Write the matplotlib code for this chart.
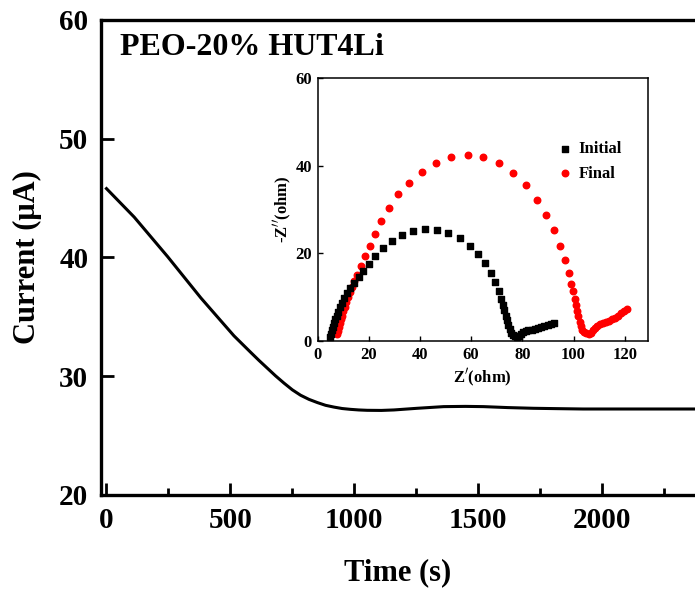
import matplotlib
matplotlib.use("Agg")
import matplotlib.pyplot as plt
from matplotlib.ticker import MultipleLocator

plt.rcParams['font.family'] = ['Liberation Serif', 'DejaVu Serif']
plt.rcParams['font.weight'] = 'bold'

# main curve: current vs time
t_s = [0, 112, 247, 381, 450, 515, 583, 616, 650, 683, 717, 751, 784, 818, 852, 885,
       919, 952, 986, 1019, 1053, 1110, 1161, 1255, 1362, 1450, 1523, 1620, 1724,
       1820, 1925, 2100, 2250, 2400]
current_uA = [45.8, 43.4, 40.07, 36.6, 34.95, 33.4, 32.0, 31.33, 30.67, 30.03, 29.42, 28.85,
              28.4, 28.05, 27.78, 27.55, 27.4, 27.28, 27.21, 27.16, 27.13, 27.12, 27.16,
              27.3, 27.44, 27.46, 27.44, 27.36, 27.3, 27.27, 27.24, 27.24, 27.24, 27.24]

# inset: impedance spectra
zre_initial = [5.0, 5.2, 5.5, 5.9, 6.4, 6.9, 7.5, 8.1, 8.8, 9.6, 10.5, 11.5, 12.7, 14.2,
               16.0, 17.7, 19.9, 22.5, 25.4, 28.9, 32.8, 37.3, 41.8, 46.6, 51.0, 55.6,
               59.5, 62.7, 65.5, 67.6, 69.5, 70.7, 71.8, 72.5, 73.0, 73.5, 74.0, 74.5,
               75.0, 75.6, 76.3, 77.0, 77.8, 78.6, 79.4, 80.3, 81.3, 82.4, 83.6, 84.8,
               86.0, 87.3, 88.6, 89.9, 91.2, 92.4]
zim_initial = [0.8, 1.6, 2.4, 3.2, 4.0, 4.9, 5.8, 6.7, 7.7, 8.7, 9.8, 10.9, 12.1, 13.3,
               14.6, 16.0, 17.6, 19.3, 21.1, 22.7, 24.1, 25.0, 25.5, 25.4, 24.7, 23.4,
               21.7, 19.8, 17.7, 15.6, 13.4, 11.3, 9.6, 8.3, 7.0, 5.8, 4.7, 3.6,
               2.7, 1.9, 1.4, 1.1, 1.0, 1.2, 1.6, 2.0, 2.3, 2.5, 2.6, 2.8,
               3.0, 3.2, 3.5, 3.7, 3.9, 4.1]
zre_final = [7.6, 7.9, 8.2, 8.6, 9.0, 9.5, 10.0, 10.6, 11.2, 11.9, 12.6, 13.4, 14.3, 15.3,
             16.9, 18.6, 20.4, 22.3, 24.8, 27.9, 31.6, 35.8, 40.8, 46.2, 52.3, 58.6,
             64.8, 70.9, 76.5, 81.4, 85.7, 89.2, 92.2, 94.7, 96.5, 98.1, 99.0, 99.7,
             100.4, 100.9, 101.4, 101.9, 102.4, 102.9, 103.5, 104.2, 105.0, 105.9, 106.8,
             107.6, 108.4, 109.3, 110.3, 111.4, 112.6, 113.8, 115.0, 116.2, 117.4, 118.6,
             119.8, 121.0]
zim_final = [1.5, 2.3, 3.1, 4.0, 4.9, 5.8, 6.8, 7.8, 8.9, 10.0, 11.2, 12.4, 13.6, 15.0,
             17.0, 19.3, 21.7, 24.4, 27.3, 30.4, 33.4, 36.1, 38.5, 40.5, 42.0, 42.4,
             42.0, 40.6, 38.4, 35.5, 32.2, 28.8, 25.4, 21.7, 18.4, 15.4, 13.1, 11.3,
             9.6, 8.2, 6.9, 5.6, 4.4, 3.4, 2.6, 2.1, 1.8, 1.7, 1.9,
             2.4, 3.0, 3.5, 3.9, 4.2, 4.4, 4.6, 4.9, 5.3, 5.8, 6.3,
             6.8, 7.3]

fig = plt.figure(figsize=(6.95, 5.94), dpi=100)
ax = fig.add_axes([0.145, 0.1667, 0.855, 0.7997])
ax.plot(t_s, current_uA, color='black', lw=2.2, solid_joinstyle='round')
ax.set_xlim(-23, 2377)
ax.set_ylim(20, 60)
ax.xaxis.set_major_locator(MultipleLocator(500))
ax.xaxis.set_minor_locator(MultipleLocator(250))
ax.yaxis.set_major_locator(MultipleLocator(10))
ax.tick_params(which='both', direction='in', labelsize=21, width=2, pad=9)
ax.tick_params(which='major', length=9)
ax.tick_params(which='minor', length=5)
ax.tick_params(axis='y', which='minor', left=False)
ax.spines['right'].set_visible(False)
for s in ('left', 'top', 'bottom'):
    ax.spines[s].set_linewidth(2.4)
ax.set_xlabel('Time (s)', fontsize=22, fontweight='bold', labelpad=17)
ax.set_ylabel('Current (μA)', fontsize=22, fontweight='bold', labelpad=12)
fig.text(0.173, 0.907, 'PEO-20% HUT4Li', fontsize=23, fontweight='bold')

# inset
ins = fig.add_axes([0.457, 0.426, 0.475, 0.443])
ins.scatter(zre_initial, zim_initial, marker='s', s=22, color='black', label='Initial', zorder=3)
ins.scatter(zre_final, zim_final, marker='o', s=22, color='#ff0000', label='Final', zorder=2)
ins.set_xlim(0, 129)
ins.set_ylim(0, 60)
ins.xaxis.set_major_locator(MultipleLocator(20))
ins.yaxis.set_major_locator(MultipleLocator(20))
ins.tick_params(direction='in', length=3.5, width=1, labelsize=12, pad=4)
for s in ins.spines.values():
    s.set_linewidth(1.1)
ins.set_xlabel("Z$'$(ohm)", fontsize=12, fontweight='bold', labelpad=3)
ins.set_ylabel("-Z$''$(ohm)", fontsize=12, fontweight='bold', labelpad=1)
ins.legend(loc='upper left', bbox_to_anchor=(0.70, 0.79), frameon=False,
           fontsize=12, handletextpad=0.3, borderpad=0, labelspacing=0.5,
           handlelength=1.0, markerscale=1.0)

fig.savefig('out.png', dpi=100)
